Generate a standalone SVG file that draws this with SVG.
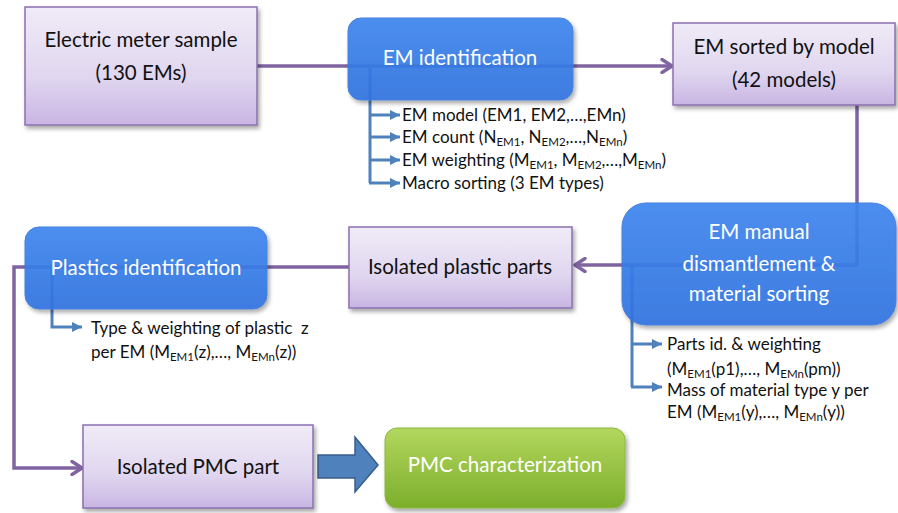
<svg xmlns="http://www.w3.org/2000/svg" width="898" height="513" viewBox="0 0 898 513">
<defs>
<linearGradient id="gPurple" x1="0" y1="0" x2="0" y2="1">
<stop offset="0" stop-color="#f0ebf7"/>
<stop offset="0.6" stop-color="#e0d6ef"/>
<stop offset="1" stop-color="#c8b5e3"/>
</linearGradient>
<linearGradient id="gBlue" x1="0" y1="0" x2="0" y2="1">
<stop offset="0" stop-color="#3f86ee"/>
<stop offset="1" stop-color="#2f72de"/>
</linearGradient>
<linearGradient id="gGreen" x1="0" y1="0" x2="0" y2="1">
<stop offset="0" stop-color="#b3d75e"/>
<stop offset="1" stop-color="#7cae2c"/>
</linearGradient>
<filter id="sh" x="-10%" y="-10%" width="125%" height="135%">
<feDropShadow dx="2" dy="3" stdDeviation="2" flood-color="#000" flood-opacity="0.35"/>
</filter>
<marker id="mP" viewBox="0 0 14 16" refX="12" refY="8" markerWidth="14" markerHeight="16" markerUnits="userSpaceOnUse" orient="auto">
<polyline points="2,1.5 12,8 2,14.5" fill="none" stroke="#8064a2" stroke-width="3.4" stroke-linecap="round" stroke-linejoin="round"/>
</marker>
<marker id="mB" viewBox="0 0 10 10" refX="10" refY="5" markerWidth="10" markerHeight="10" markerUnits="userSpaceOnUse" orient="auto">
<path d="M0,0 L10,5 L0,10 Z" fill="#4f81bd"/>
</marker>
</defs>
<style>
.pbox{fill:url(#gPurple);stroke:#8a70b0;stroke-width:1.5;filter:url(#sh)}
.bbox{fill:url(#gBlue);stroke:#3a78dc;stroke-width:1;opacity:0.93;filter:url(#sh)}
.gbox{fill:url(#gGreen);stroke:#8cb843;stroke-width:1;filter:url(#sh)}
.pl{fill:none;stroke:#8064a2;stroke-width:3.5}
.bl{fill:none;stroke:#4f81bd;stroke-width:3}
text{font-family:Lato,"Open Sans","Liberation Sans",sans-serif}
.t{font-size:20.5px;fill:#111;text-anchor:middle}
.w{font-size:20.5px;fill:#fff;text-anchor:middle}
.s{font-size:17px;fill:#111}
.sub{font-size:11.5px}
</style>

<g id="connectors">
<line class="pl" x1="257" y1="66" x2="672" y2="66" marker-end="url(#mP)"/>
<path class="pl" d="M857,105 V265 H575" marker-end="url(#mP)"/>
<path class="pl" d="M349,267 H14 V468 H82" marker-end="url(#mP)"/>
<path class="bl" d="M370,67 V183"/>
<line class="bl" x1="369" y1="115" x2="400" y2="115" marker-end="url(#mB)"/>
<line class="bl" x1="369" y1="137" x2="400" y2="137" marker-end="url(#mB)"/>
<line class="bl" x1="369" y1="160" x2="400" y2="160" marker-end="url(#mB)"/>
<line class="bl" x1="369" y1="183" x2="400" y2="183" marker-end="url(#mB)"/>
<path class="bl" d="M632,265 V387"/>
<line class="bl" x1="631" y1="344" x2="662" y2="344" marker-end="url(#mB)"/>
<line class="bl" x1="631" y1="387" x2="662" y2="387" marker-end="url(#mB)"/>
<path class="bl" d="M52,267 V327 H82" marker-end="url(#mB)"/>
<polygon points="318,455 355,455 355,437 378,465 355,492 355,478 318,478" fill="#4f81bd" stroke="#385d8a" stroke-width="1.5" stroke-linejoin="miter"/>
</g>

<g id="n-sample">
<rect class="pbox" x="25" y="7" width="232" height="118"/>
<text class="t" x="141" y="47">Electric meter sample</text>
<text class="t" x="141" y="80">(130 EMs)</text>
</g>

<g id="n-emid">
<rect class="bbox" x="348" y="18" width="225" height="82" rx="13"/>
<text class="w" x="460" y="65">EM identification</text>
</g>

<g id="n-emid-notes">
<text class="s" x="402" y="121">EM model (EM1, EM2,…,EMn)</text>
<text class="s" x="402" y="143">EM count (N<tspan class="sub" dy="3">EM1</tspan><tspan dy="-3">, N</tspan><tspan class="sub" dy="3">EM2</tspan><tspan dy="-3">,…,N</tspan><tspan class="sub" dy="3">EMn</tspan><tspan dy="-3">)</tspan></text>
<text class="s" x="402" y="166">EM weighting (M<tspan class="sub" dy="3">EM1</tspan><tspan dy="-3">, M</tspan><tspan class="sub" dy="3">EM2</tspan><tspan dy="-3">,…,M</tspan><tspan class="sub" dy="3">EMn</tspan><tspan dy="-3">)</tspan></text>
<text class="s" x="402" y="189">Macro sorting (3 EM types)</text>
</g>

<g id="n-sorted">
<rect class="pbox" x="673" y="23" width="222" height="82"/>
<text class="t" x="784" y="54">EM sorted by model</text>
<text class="t" x="784" y="87">(42 models)</text>
</g>

<g id="n-manual">
<rect class="bbox" x="622" y="203" width="274" height="122" rx="24"/>
<text class="w" x="759" y="239">EM manual</text>
<text class="w" x="759" y="271">dismantlement &amp;</text>
<text class="w" x="759" y="301">material sorting</text>
</g>

<g id="n-manual-notes">
<text class="s" x="667" y="350">Parts id. &amp; weighting</text>
<text class="s" x="667" y="375">(M<tspan class="sub" dy="3">EM1</tspan><tspan dy="-3">(p1),…, M</tspan><tspan class="sub" dy="3">EMn</tspan><tspan dy="-3">(pm))</tspan></text>
<text class="s" x="667" y="396">Mass of material type y per</text>
<text class="s" x="667" y="418">EM (M<tspan class="sub" dy="3">EM1</tspan><tspan dy="-3">(y),…, M</tspan><tspan class="sub" dy="3">EMn</tspan><tspan dy="-3">(y))</tspan></text>
</g>

<g id="n-isoplastic">
<rect class="pbox" x="349" y="227" width="223" height="81"/>
<text class="t" x="460" y="274">Isolated plastic parts</text>
</g>

<g id="n-plasticid">
<rect class="bbox" x="25" y="227" width="242" height="82" rx="14"/>
<text class="w" x="146" y="275">Plastics identification</text>
</g>

<g id="n-plasticid-notes">
<text class="s" x="91" y="334">Type &amp; weighting of plastic&#160; z</text>
<text class="s" x="91" y="358">per EM (M<tspan class="sub" dy="3">EM1</tspan><tspan dy="-3">(z),…, M</tspan><tspan class="sub" dy="3">EMn</tspan><tspan dy="-3">(z))</tspan></text>
</g>

<g id="n-isopmc">
<rect class="pbox" x="83" y="425" width="230" height="83"/>
<text class="t" x="198" y="474">Isolated PMC part</text>
</g>

<g id="n-pmcchar">
<rect class="gbox" x="385" y="428" width="240" height="80" rx="12"/>
<text class="w" x="505" y="472">PMC characterization</text>
</g>
</svg>
